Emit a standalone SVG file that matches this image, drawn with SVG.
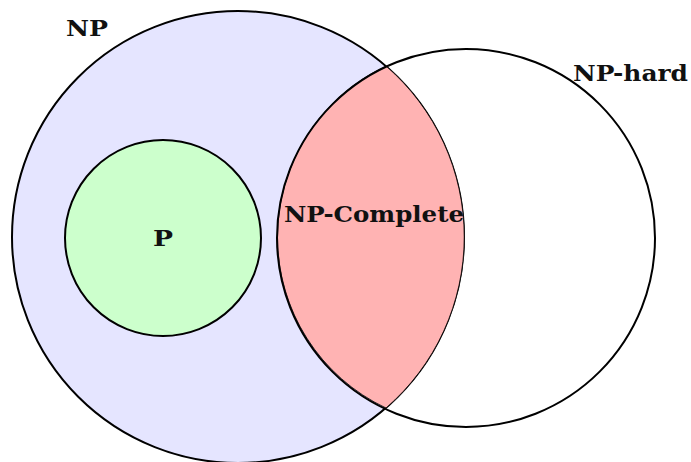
<svg xmlns="http://www.w3.org/2000/svg" width="691" height="462" viewBox="0 0 691 462">
<style>
.c{stroke:#000;stroke-width:2}
.t{font-family:"DejaVu Serif","Liberation Serif",serif;font-weight:bold;font-size:23px;fill:#111}
</style>
<rect width="691" height="462" fill="#fff"/>
<g id="np"><circle class="c" cx="238" cy="237" r="226" fill="#e5e5ff"/><text class="t" x="66" y="36" textLength="42" lengthAdjust="spacingAndGlyphs">NP</text></g>
<g id="p"><circle class="c" cx="163" cy="238" r="98" fill="#ccffcc"/><text class="t" x="153" y="246" textLength="20" lengthAdjust="spacingAndGlyphs">P</text></g>
<g id="npc"><path d="M386 66 A226 226 0 0 1 386 408 A189 189 0 0 1 386 66 Z" fill="#ffb3b3" stroke="#000" stroke-width="0.8"/><text class="t" x="284" y="222" textLength="180" lengthAdjust="spacingAndGlyphs">NP-Complete</text></g>
<g id="nphard"><circle class="c" cx="466" cy="238" r="189" fill="none"/><text class="t" x="573" y="81" textLength="115" lengthAdjust="spacingAndGlyphs">NP-hard</text></g>
<g id="connectors"></g>
</svg>
